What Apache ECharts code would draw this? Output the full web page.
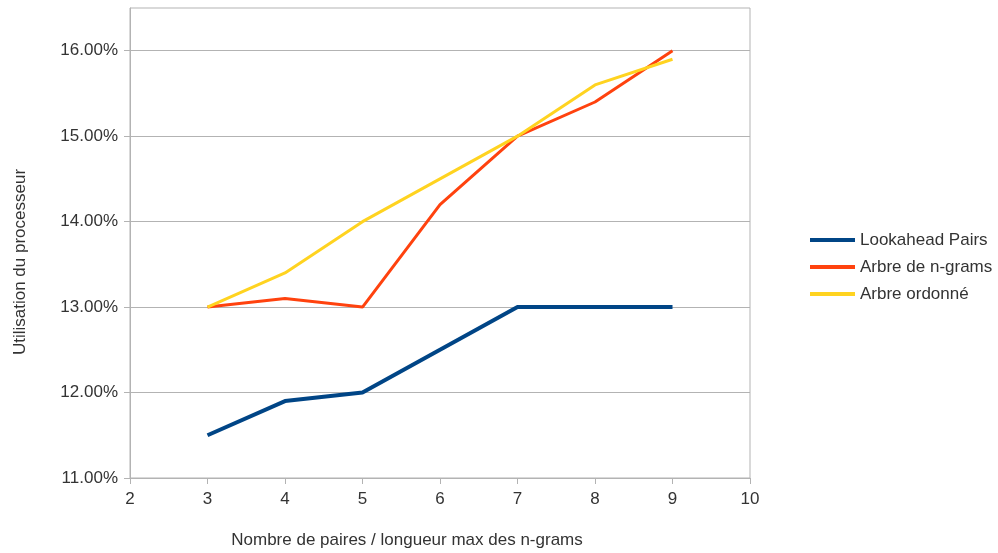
<!DOCTYPE html>
<html><head><meta charset="utf-8">
<script src="https://cdn.jsdelivr.net/npm/echarts@6/dist/echarts.min.js"></script>
<style>html,body{margin:0;padding:0;background:#fff}#c{width:998px;height:553px}</style>
</head><body><div id="c"></div>
<script>
const xValues = [3, 4, 5, 6, 7, 8, 9];
const lookahead = [11.5, 11.9, 12.0, 12.5, 13.0, 13.0, 13.0];
const ngrams = [13.0, 13.1, 13.0, 14.2, 15.0, 15.4, 16.0];
const ordonne = [13.0, 13.4, 14.0, 14.5, 15.0, 15.6, 15.9];
const yTicks = [11, 12, 13, 14, 15, 16];
const seriesNames = ['Lookahead Pairs', 'Arbre de n-grams', 'Arbre ordonné'];
const xTitle = 'Nombre de paires / longueur max des n-grams';
const yTitle = 'Utilisation du processeur';

const pair = a => xValues.map((x, i) => [x, a[i]]);
const font = 'Liberation Sans, Arial, sans-serif';
const chart = echarts.init(document.getElementById('c'), null, {renderer: 'canvas'});
chart.setOption({
  animation: false,
  backgroundColor: '#fff',
  grid: {left: 130, right: 248, top: 8, bottom: 75, show: true, borderColor: '#b3b3b3', borderWidth: 1},
  legend: {
    orient: 'vertical', left: 805, top: 226, itemWidth: 45, itemHeight: 4, itemGap: 9,
    icon: 'rect',
    textStyle: {fontFamily: font, fontSize: 17, lineHeight: 18, color: '#333'},
    data: seriesNames
  },
  graphic: [
    {type: 'text', x: 407, y: 540, style: {text: xTitle, fontFamily: font, fontSize: 17, fill: '#333', textAlign: 'center', textVerticalAlign: 'middle'}},
    {type: 'text', x: 20, y: 262, rotation: Math.PI / 2, style: {text: yTitle, fontFamily: font, fontSize: 17, fill: '#333', textAlign: 'center', textVerticalAlign: 'middle'}}
  ],
  xAxis: {
    type: 'value', min: 2, max: 10, interval: 1,
    axisLine: {show: true, lineStyle: {color: '#b3b3b3'}},
    axisTick: {show: true, length: 6, lineStyle: {color: '#b3b3b3'}},
    axisLabel: {fontFamily: font, fontSize: 17, color: '#333', margin: 13},
    splitLine: {show: false}
  },
  yAxis: {
    type: 'value', min: 11, max: 16.5, interval: 1,
    axisLine: {show: true, lineStyle: {color: '#b3b3b3'}},
    axisTick: {show: true, length: 6, customValues: yTicks, lineStyle: {color: '#b3b3b3'}},
    axisLabel: {fontFamily: font, fontSize: 17, color: '#333', margin: 12, customValues: yTicks,
      formatter: v => v.toFixed(2) + '%'},
    splitLine: {show: true, lineStyle: {color: '#b3b3b3', width: 1}}
  },
  series: [
    {name: seriesNames[0], type: 'line', data: pair(lookahead), symbol: 'none', color: '#004586', lineStyle: {width: 4, color: '#004586'}},
    {name: seriesNames[1], type: 'line', data: pair(ngrams), symbol: 'none', color: '#ff420e', lineStyle: {width: 3, color: '#ff420e'}},
    {name: seriesNames[2], type: 'line', data: pair(ordonne), symbol: 'none', color: '#ffd320', lineStyle: {width: 3, color: '#ffd320'}}
  ]
});
</script></body></html>
